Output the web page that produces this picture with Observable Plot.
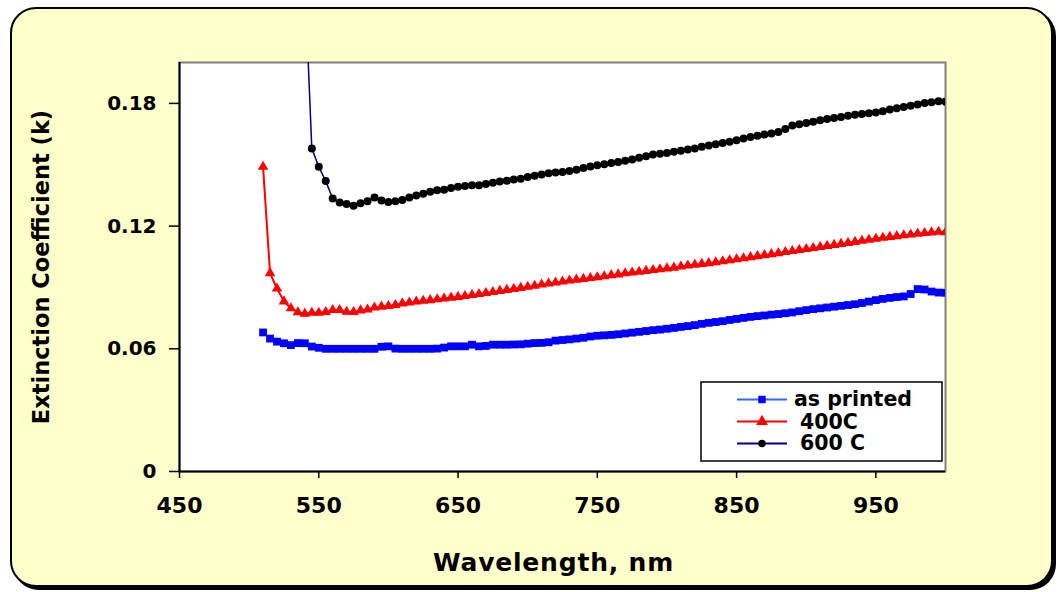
<!DOCTYPE html>
<html><head><meta charset="utf-8">
<script src="https://cdn.jsdelivr.net/npm/d3@7"></script>
<script src="https://cdn.jsdelivr.net/npm/@observablehq/plot@0.6"></script>
<style>
html,body{margin:0;padding:0;background:#fff;width:1058px;height:592px;overflow:hidden;}
#panel{position:absolute;left:10px;top:7px;width:1039px;height:576px;background:#FFFFCC;border:2px solid #000;border-radius:26px;box-shadow:3px 3px 0 #000;}
#chart{position:absolute;left:0;top:0;}
#legend{position:absolute;left:700px;top:381px;}
</style></head><body>
<div id="panel"></div><div id="chart"></div><svg id="legend" width="244" height="82"></svg>
<script>
const wavelength = [510,515,520,525,530,535,540,545,550,555,560,565,570,575,580,585,590,595,600,605,610,615,620,625,630,635,640,645,650,655,660,665,670,675,680,685,690,695,700,705,710,715,720,725,730,735,740,745,750,755,760,765,770,775,780,785,790,795,800,805,810,815,820,825,830,835,840,845,850,855,860,865,870,875,880,885,890,895,900,905,910,915,920,925,930,935,940,945,950,955,960,965,970,975,980,985,990,995,1000];

const asPrinted = [
0.0680,0.0650,0.0635,0.0627,0.0618,0.0628,0.0627,0.0611,0.0605,0.0600,
0.0600,0.0600,0.0600,0.0600,0.0600,0.0600,0.0600,0.0610,0.0612,0.0601,
0.0600,0.0600,0.0600,0.0600,0.0600,0.0601,0.0606,0.0612,0.0612,0.0612,
0.0620,0.0612,0.0614,0.0620,0.0620,0.0620,0.0621,0.0622,0.0625,0.0628,
0.0629,0.0632,0.0640,0.0643,0.0646,0.0650,0.0654,0.0660,0.0664,0.0666,
0.0668,0.0671,0.0675,0.0679,0.0683,0.0687,0.0691,0.0694,0.0698,0.0702,
0.0707,0.0711,0.0716,0.0722,0.0727,0.0731,0.0735,0.0741,0.0746,0.0751,
0.0756,0.0760,0.0763,0.0767,0.0770,0.0774,0.0778,0.0784,0.0789,0.0794,
0.0798,0.0802,0.0806,0.0810,0.0814,0.0818,0.0824,0.0831,0.0838,0.0844,
0.0849,0.0853,0.0856,0.0868,0.0892,0.0890,0.0880,0.0875,0.0874];

const c400 = [
0.149,0.097,0.0895,0.0832,0.0798,0.0779,0.0772,0.0776,0.0776,0.0780,
0.0790,0.0790,0.0781,0.0780,0.0788,0.0792,0.0802,0.0806,0.0809,0.0814,
0.0822,0.0826,0.0831,0.0835,0.0838,0.0842,0.0846,0.0850,0.0854,0.0858,
0.0863,0.0868,0.0873,0.0878,0.0883,0.0888,0.0893,0.0898,0.0903,0.0908,
0.0914,0.0919,0.0924,0.0929,0.0934,0.0938,0.0942,0.0946,0.0950,0.0955,
0.0960,0.0964,0.0969,0.0973,0.0977,0.0981,0.0985,0.0989,0.0993,0.0997,
0.1002,0.1007,0.1011,0.1015,0.1019,0.1023,0.1028,0.1033,0.1038,0.1043,
0.1048,0.1053,0.1058,0.1063,0.1068,0.1073,0.1078,0.1083,0.1088,0.1093,
0.1098,0.1103,0.1108,0.1113,0.1118,0.1123,0.1128,0.1133,0.1138,0.1143,
0.1147,0.1151,0.1155,0.1159,0.1163,0.1166,0.1169,0.1172,0.1170];

const c600 = [
null,null,null,null,null,null,0.24,0.158,0.149,0.142,
0.1335,0.1315,0.1308,0.1300,0.1312,0.1322,0.1340,0.1325,0.1318,0.1322,
0.1328,0.1340,0.1350,0.1358,0.1368,0.1375,0.1378,0.1386,0.1392,0.1396,
0.1400,0.1400,0.1406,0.1412,0.1418,0.1422,0.1428,0.1432,0.1440,0.1446,
0.1452,0.1458,0.1462,0.1465,0.1470,0.1476,0.1484,0.1492,0.1498,0.1503,
0.1508,0.1514,0.1520,0.1526,0.1534,0.1542,0.1550,0.1554,0.1558,0.1563,
0.1568,0.1574,0.1580,0.1588,0.1594,0.1600,0.1606,0.1612,0.1620,0.1628,
0.1636,0.1642,0.1648,0.1653,0.1660,0.1675,0.1692,0.1698,0.1704,0.1710,
0.1718,0.1724,0.1728,0.1734,0.1740,0.1745,0.1748,0.1752,0.1756,0.1762,
0.1770,0.1776,0.1782,0.1789,0.1795,0.1802,0.1806,0.1810,0.1808];

const seriesNames = ["as printed", "400C", "600 C"];
const xTicks = [450, 550, 650, 750, 850, 950];
const yTicks = [0, 0.06, 0.12, 0.18];
const xTitle = "Wavelength, nm";
const yTitle = "Extinction Coefficient (k)";

function rows(vals) {
  return wavelength.map((w, i) => ({w, k: vals[i]})).filter(d => d.k != null);
}
const blue = rows(asPrinted), red = rows(c400), black = rows(c600);

const FONT = "'DejaVu Sans', 'Liberation Sans', sans-serif";

const chart = Plot.plot({
  width: 1058, height: 592,
  marginLeft: 179, marginRight: 113, marginTop: 62, marginBottom: 121,
  style: {background: "transparent", fontFamily: FONT, fontWeight: "bold", color: "black", overflow: "visible"},
  x: {domain: [450, 1000]},
  y: {domain: [0, 0.2]},
  marks: [
    Plot.frame({fill: "white", stroke: "#808080", strokeWidth: 2}),
    Plot.axisY({ticks: yTicks, tickFormat: d => String(d), tickSize: 10, tickPadding: 13, fontSize: 20, strokeWidth: 1.5, label: null}),
    Plot.axisX({ticks: xTicks, tickFormat: d => String(d), tickSize: 7, tickPadding: 19, fontSize: 22, strokeWidth: 1.5, label: null}),
    Plot.ruleX([450], {stroke: "black", strokeWidth: 2}),
    Plot.ruleY([0], {stroke: "black", strokeWidth: 2}),
    Plot.line(blue, {x: "w", y: "k", stroke: "#3366FF", strokeWidth: 1.5, clip: true}),
    Plot.dot(blue, {x: "w", y: "k", symbol: "square", r: 4.4, fill: "#0000FF", stroke: "none", clip: true}),
    Plot.line(red, {x: "w", y: "k", stroke: "#FF0000", strokeWidth: 2, clip: true}),
    Plot.dot(red, {x: "w", y: "k", symbol: "triangle", r: 3.9, fill: "#FF0000", stroke: "none", clip: true}),
    Plot.line(black, {x: "w", y: "k", stroke: "#000080", strokeWidth: 1.5, clip: true}),
    Plot.dot(black, {x: "w", y: "k", symbol: "circle", r: 4, fill: "#000000", stroke: "none", clip: true}),
    Plot.text([xTitle], {text: d => d, frameAnchor: "bottom", dy: 99, dx: -9, fontSize: 25, fontWeight: "bold"}),
    Plot.text([yTitle], {text: d => d, frameAnchor: "left", textAnchor: "middle", dx: -137.5, rotate: -90, fontSize: 22.5, fontWeight: "bold"})
  ]
});
document.getElementById("chart").appendChild(chart);
d3.select(chart).selectAll("text").filter(function(){ return this.textContent === xTitle; }).attr("letter-spacing", "0.8");

// legend
const lg = d3.select("#legend");
lg.append("rect").attr("x", 1).attr("y", 1).attr("width", 241).attr("height", 79)
  .attr("fill", "white").attr("stroke", "black").attr("stroke-width", 1.5);
const legendItems = [
  {name: seriesNames[0], line: "#3366FF", fill: "#0000FF", sym: d3.symbolSquare, size: 55, ly: 18.5, ty: 25, tx: 94},
  {name: seriesNames[1], line: "#FF0000", fill: "#FF0000", sym: d3.symbolTriangle, size: 60, ly: 40.5, ty: 47.5, tx: 100},
  {name: seriesNames[2], line: "#000080", fill: "#000000", sym: d3.symbolCircle, size: 45, ly: 62.5, ty: 69, tx: 100}
];
for (const it of legendItems) {
  lg.append("line").attr("x1", 37).attr("x2", 87).attr("y1", it.ly).attr("y2", it.ly)
    .attr("stroke", it.line).attr("stroke-width", 2);
  lg.append("path").attr("d", d3.symbol(it.sym, it.size)()).attr("transform", `translate(62,${it.ly})`).attr("fill", it.fill);
  lg.append("text").attr("x", it.tx).attr("y", it.ty).text(it.name)
    .attr("font-family", FONT).attr("font-weight", "bold").attr("font-size", 20.5).attr("fill", "black");
}
</script></body></html>
